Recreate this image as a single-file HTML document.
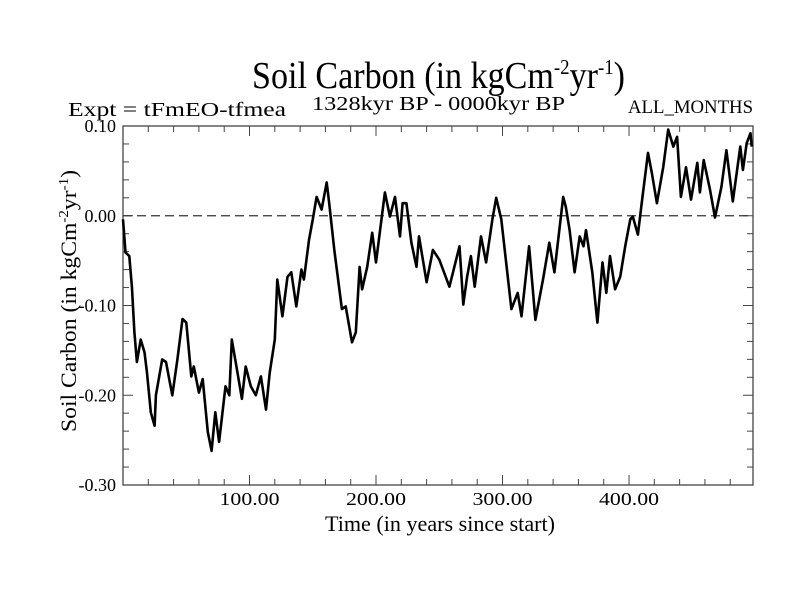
<!DOCTYPE html>
<html><head><meta charset="utf-8"><style>
html,body{margin:0;padding:0;background:#fff;}
svg{display:block;font-family:"Liberation Serif",serif;}
</style></head><body>
<svg id="chart" width="800" height="600" viewBox="0 0 800 600" xmlns="http://www.w3.org/2000/svg">
<rect width="800" height="600" fill="#fff"/>
<text x="252" y="88" font-size="38" textLength="373" lengthAdjust="spacingAndGlyphs">Soil Carbon (in kgCm<tspan font-size="21" dy="-14">-2</tspan><tspan dy="14">yr</tspan><tspan font-size="21" dy="-14">-1</tspan><tspan dy="14">)</tspan></text>
<text x="68" y="116" font-size="20" textLength="218" lengthAdjust="spacingAndGlyphs">Expt = tFmEO-tfmea</text>
<text x="312" y="110" font-size="20" textLength="253" lengthAdjust="spacingAndGlyphs">1328kyr BP - 0000kyr BP</text>
<text x="628" y="113" font-size="19" textLength="125" lengthAdjust="spacingAndGlyphs">ALL_MONTHS</text>
<text x="325" y="531" font-size="22" textLength="230" lengthAdjust="spacingAndGlyphs">Time (in years since start)</text>
<text transform="translate(76,432) rotate(-90)" font-size="22" textLength="262" lengthAdjust="spacingAndGlyphs">Soil Carbon (in kgCm<tspan font-size="14" dy="-8">-2</tspan><tspan dy="8">yr</tspan><tspan font-size="14" dy="-8">-1</tspan><tspan dy="8">)</tspan></text>
<g id="axes"></g>
<g id="series"></g>
</svg>
<script>
const xTickValues=[100,200,300,400];
const xTickLabels=["100.00","200.00","300.00","400.00"];
const yTickValues=[0.10,0.00,-0.10,-0.20,-0.30];
const yTickLabels=["0.10","0.00","-0.10","-0.20","-0.30"];
const years=[0,2,5,7,9,11,14,17,19,22,25,26,31,34,39,43,47,50,54,56,60,63,67,70,73,76,81,84,86,90,94,97,101,105,109,113,116,120,122,126,130,133,137,141,143,147,150,153,157,161,163,167,173,176,181,184,187,189,193,197,200,207,211,215,219,221,224,228,232,234,240,245,250,258,266,269,272,275,278,283,287,292,295,299,300,307,312,315,321,326,332,337,341,348,350,353,357,361,364,366,371,375,379,382,385,389,393,397,401,403,407,410,415,418,422,427,431,435,438,441,445,449,454,456,459,464,468,473,477,482,488,490,493,496,497];
const soilCarbon=[-0.004,-0.041,-0.045,-0.079,-0.13,-0.163,-0.138,-0.152,-0.175,-0.219,-0.234,-0.20,-0.16,-0.163,-0.20,-0.16,-0.115,-0.119,-0.179,-0.168,-0.197,-0.182,-0.241,-0.262,-0.219,-0.252,-0.19,-0.20,-0.138,-0.171,-0.204,-0.168,-0.19,-0.20,-0.179,-0.216,-0.175,-0.138,-0.071,-0.112,-0.068,-0.063,-0.101,-0.06,-0.071,-0.027,-0.004,0.021,0.007,0.037,0.014,-0.038,-0.104,-0.101,-0.141,-0.13,-0.057,-0.082,-0.057,-0.019,-0.052,0.026,-0.001,0.021,-0.023,0.014,0.014,-0.030,-0.057,-0.023,-0.074,-0.038,-0.049,-0.079,-0.034,-0.099,-0.068,-0.045,-0.079,-0.023,-0.052,-0.004,0.02,-0.004,-0.016,-0.104,-0.086,-0.112,-0.034,-0.116,-0.071,-0.030,-0.063,0.021,0.01,-0.016,-0.063,-0.023,-0.034,-0.016,-0.063,-0.119,-0.052,-0.086,-0.045,-0.082,-0.068,-0.034,-0.004,-0.001,-0.021,0.014,0.070,0.048,0.014,0.054,0.096,0.077,0.088,0.021,0.054,0.018,0.059,0.026,0.062,0.029,-0.002,0.032,0.073,0.016,0.077,0.051,0.081,0.092,0.077];
const L=123,R=753,T=126,B=485,XMIN=0,XMAX=498,YMIN=-0.30,YMAX=0.10;
const NS="http://www.w3.org/2000/svg";
function xs(v){return L+(v-XMIN)/(XMAX-XMIN)*(R-L);}
function ys(v){return B-(v-YMIN)/(YMAX-YMIN)*(B-T);}
function mk(tag,attrs,parent){const e=document.createElementNS(NS,tag);for(const k in attrs)e.setAttribute(k,attrs[k]);parent.appendChild(e);return e;}
const axes=document.getElementById('axes');
const frame=mk('rect',{x:L,y:T,width:R-L,height:B-T,fill:'none',stroke:'#444','stroke-width':1.3},axes);


for(let v=20;v<XMAX;v+=20){const major=v%100===0;const len=major?10:6;
 const t1=mk('line',{x1:xs(v),x2:xs(v),y1:B,y2:B-len,stroke:'#444','stroke-width':1},axes);
 
 
 const t2=mk('line',{x1:xs(v),x2:xs(v),y1:T,y2:T+len,stroke:'#444','stroke-width':1},axes);
 
 }
for(let i=0;i<=20;i++){const v=YMIN+i*0.02;const major=i%5===0;const len=major?10:6;
 const t1=mk('line',{x1:L,x2:L+len,y1:ys(v),y2:ys(v),stroke:'#444','stroke-width':1},axes);
 
 
 const t2=mk('line',{x1:R,x2:R-len,y1:ys(v),y2:ys(v),stroke:'#444','stroke-width':1},axes);
 
 }
xTickValues.forEach((v,i)=>{const t=mk('text',{x:xs(v),y:505,'font-size':18,'text-anchor':'middle',textLength:60,lengthAdjust:'spacingAndGlyphs'},axes);t.textContent=xTickLabels[i];
 
 });
yTickValues.forEach((v,i)=>{const t=mk('text',{x:116,y:ys(v)+6,'font-size':18,'text-anchor':'end'},axes);t.textContent=yTickLabels[i];
 
 });
const zero=mk('line',{x1:L,x2:R,y1:ys(0),y2:ys(0),stroke:'#333','stroke-width':1.2,'stroke-dasharray':'9,5'},axes);


const series=document.getElementById('series');
const d=years.map((x,i)=>(i?'L':'M')+xs(x).toFixed(1)+','+ys(soilCarbon[i]).toFixed(1)).join('');
const p=mk('path',{d:d,fill:'none',stroke:'#000','stroke-width':2.6,'stroke-linejoin':'round'},series);


</script>
</body></html>
